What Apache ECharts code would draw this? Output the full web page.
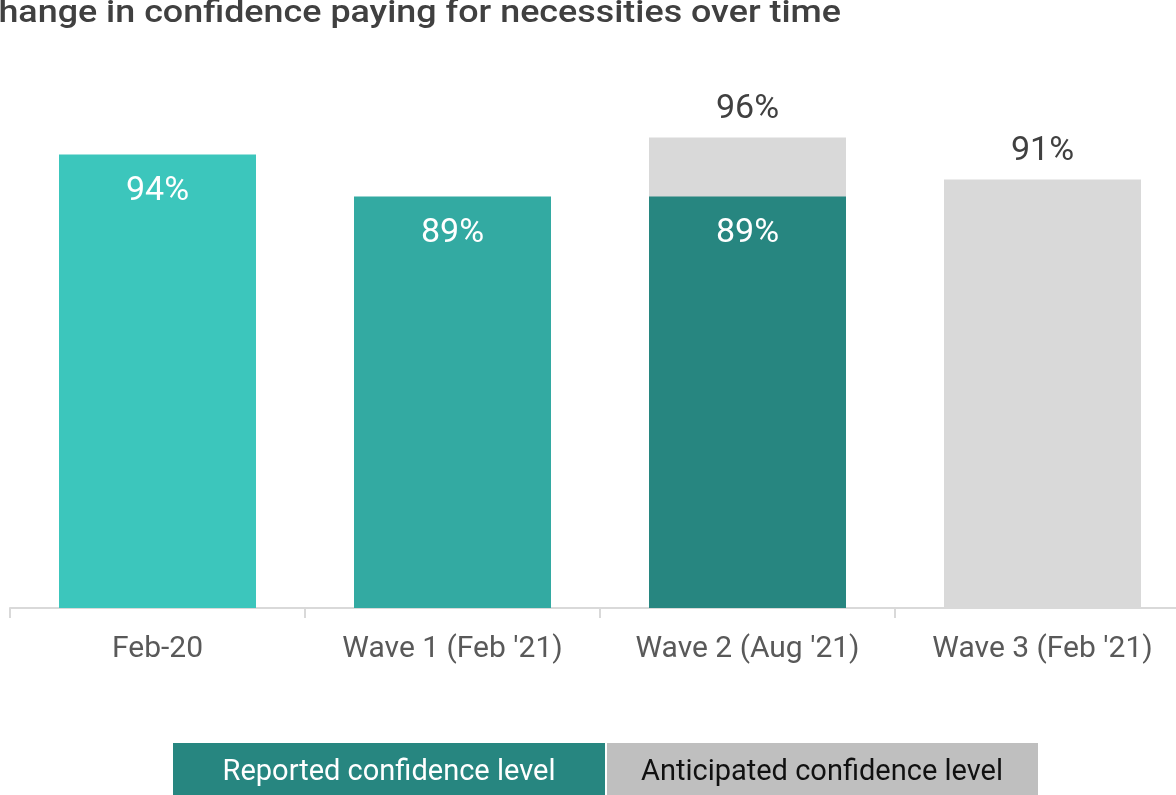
<!DOCTYPE html>
<html>
<head>
<meta charset="utf-8">
<script src="https://cdn.jsdelivr.net/npm/echarts@6/dist/echarts.min.js"></script>
<style>
  html, body { margin: 0; padding: 0; background: #ffffff; }
  #chart { width: 1176px; height: 795px; }
</style>
</head>
<body>
<div id="chart"></div>
<script>
// Confidence paying for necessities, by survey wave (%)
const categories = ['Feb-20', "Wave 1 (Feb '21)", "Wave 2 (Aug '21)", "Wave 3 (Feb '21)"];
const reported = [94, 89, 89, null];
const anticipated = [null, null, 96, 91];
const reportedColors = ['#3cc6bc', '#33aaa2', '#278680'];
const legendNames = ['Reported confidence level', 'Anticipated confidence level'];
const titleText = 'Change in confidence paying for necessities over time';

const labelFont = 'Roboto, "Noto Sans", sans-serif';

const chart = echarts.init(document.getElementById('chart'), null, { renderer: 'canvas' });

chart.setOption({
  animation: false,
  backgroundColor: '#ffffff',
  grid: {
    left: 10, width: 1180, top: 104, bottom: 187,
    containLabel: false, outerBoundsMode: 'none'
  },
  xAxis: {
    type: 'category',
    data: categories,
    boundaryGap: true,
    axisLine: { show: true, lineStyle: { color: '#d9d9d9', width: 2 } },
    axisTick: { show: true, length: 10, lineStyle: { color: '#d9d9d9', width: 2 } },
    axisLabel: {
      margin: 26,
      color: '#595959',
      fontFamily: labelFont,
      fontSize: 30
    }
  },
  yAxis: {
    type: 'value',
    min: 40,
    max: 100,
    show: false,
    splitLine: { show: false }
  },
  series: [
    {
      name: legendNames[1],
      type: 'bar',
      data: anticipated,
      barWidth: 197,
      barGap: '-100%',
      itemStyle: { color: '#d9d9d9' },
      label: {
        show: true,
        position: 'top',
        distance: 11,
        color: '#404040',
        fontFamily: labelFont,
        fontSize: 34,
        formatter: p => p.value + '%'
      }
    },
    {
      name: legendNames[0],
      type: 'bar',
      data: reported.map((v, i) => v == null ? null : { value: v, itemStyle: { color: reportedColors[i] } }),
      barWidth: 197,
      barGap: '-100%',
      label: {
        show: true,
        position: 'insideTop',
        distance: 20,
        color: '#ffffff',
        fontFamily: labelFont,
        fontSize: 34,
        formatter: p => p.value + '%'
      }
    }
  ],
  graphic: [
    {
      type: 'text',
      x: -25,
      y: 14,
      scaleX: 1.055,
      scaleY: 0.9,
      style: {
        text: titleText,
        fill: '#404040',
        font: '500 34px ' + labelFont,
        verticalAlign: 'middle'
      }
    },
    {
      type: 'group',
      left: 173,
      top: 743,
      children: [
        { type: 'rect', shape: { x: 0, y: 0, width: 432, height: 60 }, style: { fill: '#278680' } },
        { type: 'text', x: 216, y: 30, style: { text: legendNames[0], fill: '#ffffff', font: '29px ' + labelFont, align: 'center', verticalAlign: 'middle' } },
        { type: 'rect', shape: { x: 434, y: 0, width: 431, height: 60 }, style: { fill: '#bfbfbf' } },
        { type: 'text', x: 649, y: 30, style: { text: legendNames[1], fill: '#111111', font: '29px ' + labelFont, align: 'center', verticalAlign: 'middle' } }
      ]
    }
  ]
});
</script>
</body>
</html>
